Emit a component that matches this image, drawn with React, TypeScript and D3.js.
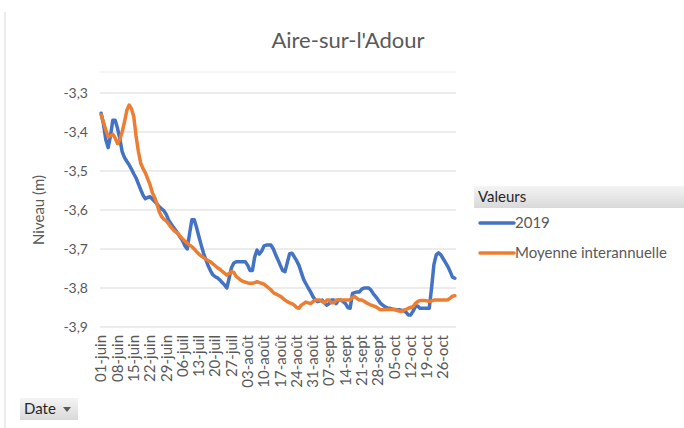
import React from 'react';
import * as d3 from 'd3';

// niveaux journaliers du 1er juin au 31 oct. 2019 (m)
const serie2019 = [
  -3.352, -3.38, -3.42, -3.44, -3.41, -3.37, -3.37, -3.39, -3.416, -3.45,
  -3.465, -3.475, -3.484, -3.495, -3.507, -3.518, -3.533, -3.548, -3.562, -3.571,
  -3.568, -3.566, -3.572, -3.578, -3.585, -3.592, -3.597, -3.602, -3.612, -3.626,
  -3.635, -3.644, -3.652, -3.661, -3.67, -3.679, -3.692, -3.7, -3.66, -3.625,
  -3.625, -3.645, -3.668, -3.69, -3.711, -3.727, -3.743, -3.756, -3.766, -3.771,
  -3.774, -3.779, -3.786, -3.792, -3.8, -3.775, -3.748, -3.736, -3.733, -3.733,
  -3.733, -3.733, -3.733, -3.742, -3.755, -3.755, -3.72, -3.703, -3.713, -3.705,
  -3.692, -3.69, -3.69, -3.69, -3.7, -3.715, -3.728, -3.742, -3.755, -3.758,
  -3.735, -3.712, -3.711, -3.72, -3.73, -3.742, -3.76, -3.778, -3.789, -3.8,
  -3.81, -3.822, -3.831, -3.835, -3.833, -3.831, -3.838, -3.844, -3.84, -3.831,
  -3.831, -3.84, -3.831, -3.831, -3.835, -3.84, -3.85, -3.852, -3.814, -3.812,
  -3.81, -3.81, -3.803, -3.8, -3.8, -3.8, -3.806, -3.815, -3.822, -3.83,
  -3.839, -3.844, -3.848, -3.851, -3.852, -3.854, -3.855, -3.856, -3.856, -3.857,
  -3.858, -3.862, -3.869, -3.869, -3.86, -3.848, -3.846, -3.852, -3.852, -3.852,
  -3.852, -3.852, -3.8, -3.74, -3.715, -3.71, -3.715, -3.725, -3.735, -3.745,
  -3.758, -3.772, -3.775,
];

const serieMoyenne = [
  -3.356, -3.375, -3.395, -3.412, -3.41, -3.406, -3.415, -3.43, -3.42, -3.4,
  -3.375, -3.345, -3.331, -3.34, -3.36, -3.41, -3.45, -3.48, -3.494, -3.505,
  -3.52, -3.535, -3.556, -3.568, -3.585, -3.605, -3.617, -3.624, -3.628, -3.636,
  -3.644, -3.651, -3.656, -3.66, -3.668, -3.674, -3.68, -3.685, -3.69, -3.694,
  -3.7, -3.707, -3.713, -3.718, -3.722, -3.726, -3.73, -3.733, -3.738, -3.743,
  -3.748, -3.752, -3.757, -3.762, -3.767, -3.763, -3.758, -3.76, -3.77, -3.775,
  -3.78, -3.783, -3.785, -3.787, -3.788, -3.788, -3.786, -3.784, -3.786, -3.788,
  -3.79, -3.795, -3.8, -3.805, -3.812, -3.815, -3.818, -3.821, -3.826, -3.831,
  -3.835, -3.838, -3.84, -3.844, -3.85, -3.852, -3.844, -3.84, -3.836, -3.838,
  -3.84, -3.835, -3.831, -3.831, -3.831, -3.835, -3.838, -3.831, -3.831, -3.838,
  -3.838, -3.831, -3.831, -3.831, -3.831, -3.831, -3.831, -3.83, -3.824, -3.822,
  -3.827, -3.831, -3.831, -3.834, -3.838, -3.841, -3.844, -3.846, -3.848, -3.852,
  -3.856, -3.856, -3.855, -3.855, -3.855, -3.855, -3.855, -3.857, -3.859, -3.86,
  -3.857, -3.855, -3.852, -3.85, -3.848, -3.84, -3.835, -3.832, -3.832, -3.832,
  -3.833, -3.835, -3.833, -3.831, -3.831, -3.831, -3.831, -3.831, -3.831, -3.83,
  -3.826, -3.821, -3.82,
];

const moisCourts = ['janv', 'févr', 'mars', 'avr', 'mai', 'juin', 'juil', 'août', 'sept', 'oct', 'nov', 'déc'];
const jours = d3.timeDay.range(new Date(2019, 5, 1), new Date(2019, 10, 1));
const categories = jours.map(d => `${d3.timeFormat('%d')(d)}-${moisCourts[d.getMonth()]}`);
const yTicks = [-3.3, -3.4, -3.5, -3.6, -3.7, -3.8, -3.9];

const series = [
  { name: '2019', values: serie2019, color: '#4472C4' },
  { name: 'Moyenne interannuelle', values: serieMoyenne, color: '#ED7D31' },
];

const font = 'Lato, "Open Sans", sans-serif';
const frLocale = d3.formatLocale({ decimal: ',', thousands: ' ', grouping: [3], currency: ['', ' €'], minus: '-' });
const fmt = frLocale.format('.1f');

const App = () => {
  const width = 684;
  const height = 428;
  const plot = { left: 100, right: 456, top: 93, bottom: 327 };

  const x = d3.scalePoint<number>()
    .domain(categories.map((_, i) => i))
    .range([plot.left, plot.right])
    .padding(0.5);

  const y = d3.scaleLinear()
    .domain([-3.9, -3.3])
    .range([plot.bottom, plot.top]);

  const line = d3.line<number>()
    .x((_, i) => x(i) as number)
    .y(d => y(d));

  return (
    <svg width={width} height={height} style={{ position: 'absolute', left: 0, top: 0, background: '#fff' }}>
      <defs>
        <linearGradient id="hdr" x1="0" y1="0" x2="0" y2="1">
          <stop offset="0" stopColor="#f4f4f4" />
          <stop offset="1" stopColor="#d9d9d9" />
        </linearGradient>
      </defs>

      <line x1={5} x2={5} y1={12} y2={height} stroke="#d9d9d9" />

      <text x={348} y={48} textAnchor="middle" fontFamily={font} fontSize={22} fill="#595959">
        Aire-sur-l'Adour
      </text>

      <line x1={plot.left} x2={plot.right} y1={72} y2={72} stroke="#ececec" />

      {yTicks.map(t => (
        <g key={t}>
          <line x1={plot.left} x2={plot.right} y1={y(t)} y2={y(t)} stroke="#d9d9d9" />
          <text x={88} y={y(t)} dy="0.35em" textAnchor="end" fontFamily={font} fontSize={14} fill="#595959">
            {fmt(t)}
          </text>
        </g>
      ))}

      <text transform={`translate(44,${(plot.top + plot.bottom) / 2}) rotate(-90)`} textAnchor="middle"
        fontFamily={font} fontSize={15} fill="#595959">
        Niveau (m)
      </text>

      {categories.map((c, i) => i % 7 === 0 && (
        <text key={c} transform={`translate(${x(i)},${plot.bottom + 8}) rotate(-90)`} textAnchor="end" dy="0.35em"
          fontFamily={font} fontSize={15} fill="#595959">
          {c}
        </text>
      ))}

      {series.map(s => (
        <path key={s.name} d={line(s.values) || ''} fill="none" stroke={s.color} strokeWidth={3.5}
          strokeLinejoin="round" strokeLinecap="round" />
      ))}

      <rect x={474} y={186} width={210} height={22} fill="url(#hdr)" />
      <text x={478} y={197} dy="0.35em" fontFamily={font} fontSize={15} fill="#262626">Valeurs</text>
      {series.map((s, i) => (
        <g key={s.name} transform={`translate(480,${223 + i * 30})`}>
          <line x1={0} x2={34} y1={0} y2={0} stroke={s.color} strokeWidth={3.5} strokeLinecap="round" />
          <text x={35} y={0} dy="0.35em" fontFamily={font} fontSize={15} fill="#595959">{s.name}</text>
        </g>
      ))}

      <rect x={20} y={398} width={58} height={22} fill="url(#hdr)" />
      <text x={24} y={409} dy="0.35em" fontFamily={font} fontSize={15} fill="#262626">Date</text>
      <path d="M63,407 L71,407 L67,412 Z" fill="#595959" />
    </svg>
  );
};

export default App;
